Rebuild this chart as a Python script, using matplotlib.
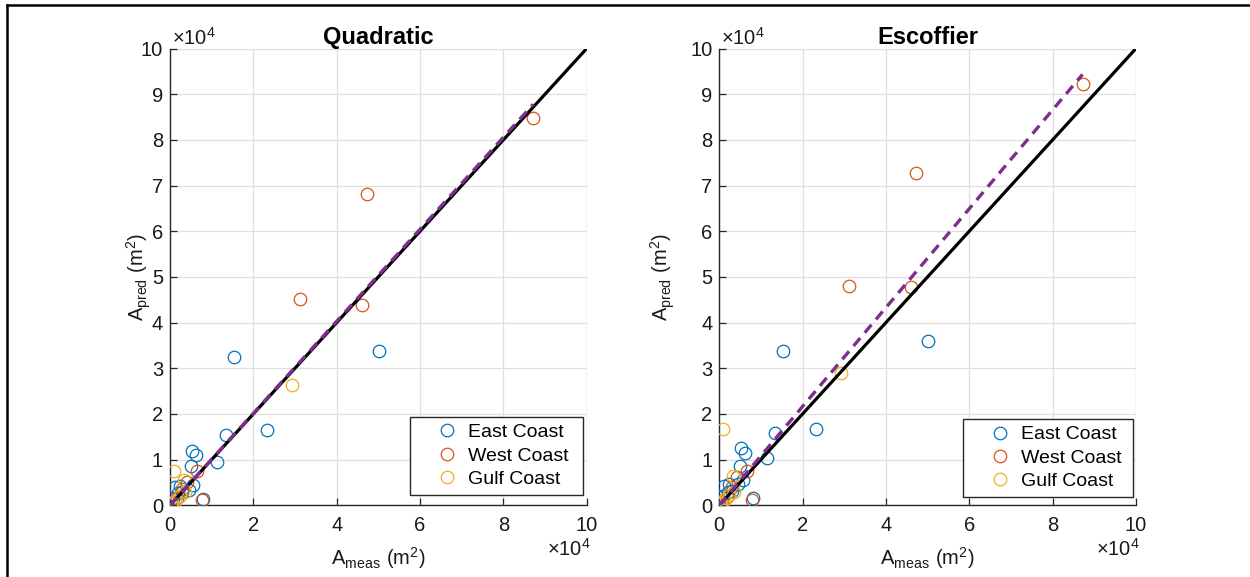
import matplotlib
matplotlib.use("Agg")
import matplotlib.pyplot as plt
from matplotlib.lines import Line2D
import numpy as np

plt.rcParams['font.family'] = ['Liberation Sans', 'DejaVu Sans']
plt.rcParams['mathtext.fontset'] = 'custom'
plt.rcParams['mathtext.rm'] = 'Liberation Sans'
plt.rcParams['lines.scale_dashes'] = False

# ---- data (units of 10^4 m^2) ----
titles = ["Quadratic", "Escoffier"]
series_names = ["East Coast", "West Coast", "Gulf Coast"]
series_colors = ["#0072BD", "#D95319", "#EDB120"]

east_meas = [5.02, 1.54, 2.33, 1.34, 0.52, 0.62, 1.14, 0.50, 0.80, 0.56, 0.46, 0.12, 0.24, 0.20, 0.08, 0.04, 0.30, 0.02]
east_quad = [3.38, 3.25, 1.65, 1.53, 1.18, 1.10, 0.95, 0.85, 0.14, 0.44, 0.33, 0.39, 0.42, 0.26, 0.17, 0.08, 0.30, 0.03]
east_esc  = [3.59, 3.37, 1.67, 1.58, 1.25, 1.15, 1.03, 0.85, 0.17, 0.55, 0.47, 0.42, 0.47, 0.30, 0.20, 0.10, 0.32, 0.03]

west_meas = [8.72, 4.72, 3.12, 4.60, 0.78, 0.66, 0.42, 0.18, 0.06, 0.30]
west_quad = [8.49, 6.82, 4.52, 4.39, 0.12, 0.74, 0.52, 0.15, 0.05, 0.35]
west_esc  = [9.23, 7.28, 4.80, 4.78, 0.12, 0.75, 0.62, 0.18, 0.06, 0.40]

gulf_meas = [2.92, 0.10, 0.34, 0.36, 0.24, 0.12, 0.04, 0.02]
gulf_quad = [2.63, 0.74, 0.55, 0.30, 0.20, 0.10, 0.06, 0.02]
gulf_esc  = [2.90, 1.67, 0.65, 0.30, 0.22, 0.12, 0.06, 0.02]

fit_slopes = [1.007, 1.082]
axis_max = 10
yticks = list(range(0, 11))
xticks = list(range(0, 11, 2))

meas_sets = [east_meas, west_meas, gulf_meas]
pred_sets = [[east_quad, west_quad, gulf_quad], [east_esc, west_esc, gulf_esc]]

fig = plt.figure(figsize=(12.5, 5.77), dpi=100)
axes_rects = [[0.136, 0.1243, 0.3333, 0.7915], [0.5754, 0.1243, 0.3333, 0.7915]]
legend_boxes = [(0.576, 0.023, 0.415, 0.2), (0.585, 0.018, 0.408, 0.2)]
ylabel_x = [-0.075, -0.135]

spine_col = "#262626"
txt_col = "#1a1a1a"
fs = 14.5
for k in range(2):
    ax = fig.add_axes(axes_rects[k])
    for meas, pred, name, col in zip(meas_sets, pred_sets[k], series_names, series_colors):
        ax.plot(meas, pred, linestyle='none', marker='o', markersize=9,
                markerfacecolor='none', markeredgecolor=col, markeredgewidth=0.9,
                label=name, zorder=3)
    ax.plot([0, axis_max], [0, axis_max], color='black', lw=2.3, zorder=4)
    xmax = max(max(m) for m in meas_sets)
    xf = np.array([0, xmax])
    ax.plot(xf, fit_slopes[k] * xf, color='#7E2F8E', lw=2.4, dashes=(7.5, 5), zorder=5)
    ax.set_xlim(0, axis_max)
    ax.set_ylim(0, axis_max)
    ax.set_xticks(xticks)
    ax.set_xticklabels([str(t) for t in xticks])
    ax.set_yticks(yticks)
    ax.set_yticklabels([str(t) for t in yticks])
    ax.grid(True, color='#DFDFDF', lw=0.9)
    ax.set_axisbelow(True)
    ax.axvline(axis_max, color='#DFDFDF', lw=0.9, zorder=0)
    ax.axhline(axis_max, color='#DFDFDF', lw=0.9, zorder=0)
    for s in ['top', 'right']:
        ax.spines[s].set_visible(False)
    for s in ['left', 'bottom']:
        ax.spines[s].set_color(spine_col)
        ax.spines[s].set_linewidth(1.0)
    ax.tick_params(direction='in', length=5, width=0.9, color=spine_col,
                   labelsize=fs, labelcolor=txt_col)
    ax.tick_params(axis='x', pad=8)
    ax.tick_params(axis='y', pad=5)
    ax.set_title(titles[k], fontsize=17, fontweight='bold', pad=2)
    ax.set_xlabel(r'$\mathregular{A_{meas}\ (m^2)}$', fontsize=fs, labelpad=7, color=txt_col)
    ax.set_ylabel(r'$\mathregular{A_{pred}\ (m^2)}$', fontsize=fs, color=txt_col, va='center')
    ax.yaxis.set_label_coords(ylabel_x[k], 0.5)
    ax.text(0.004, 1.0, r'$\mathregular{\times10^4}$', transform=ax.transAxes,
            fontsize=fs, ha='left', va='bottom', color=txt_col)
    ax.text(1.01, -0.095, r'$\mathregular{\times10^4}$', transform=ax.transAxes,
            fontsize=fs, ha='right', va='center', color=txt_col)
    leg = ax.legend(loc='lower left', bbox_to_anchor=legend_boxes[k], mode='expand',
                    fontsize=14, frameon=True, fancybox=False, edgecolor=spine_col,
                    framealpha=1, borderpad=0.35, handletextpad=-0.45, labelspacing=0.3,
                    handlelength=3.1, borderaxespad=0.0)
    leg.get_frame().set_linewidth(1.0)

# figure border (top and left)
fig.add_artist(Line2D([0.0056, 0.0056], [0, 0.991], transform=fig.transFigure, color='black', lw=1.8))
fig.add_artist(Line2D([0.0056, 1.0], [0.991, 0.991], transform=fig.transFigure, color='black', lw=1.8))

fig.savefig('out.png', dpi=100)
